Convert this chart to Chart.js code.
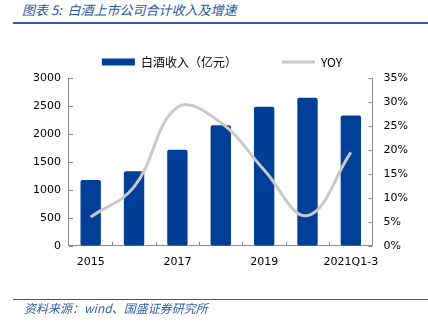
<!DOCTYPE html>
<html lang="zh">
<head>
    <meta charset="UTF-8">
    <title>白酒上市公司合计收入及增速</title>
    <style>
        body {
            margin: 0;
            padding: 0;
            background: #fff;
            width: 428px;
            height: 325px;
            position: relative;
            overflow: hidden;
            font-family: "Noto Sans CJK SC", "DejaVu Sans", sans-serif;
        }
        .title {
            position: absolute;
            left: 22px;
            top: 0px;
            font-size: 13px;
            font-style: italic;
            color: #2a56a6;
            white-space: nowrap;
        }
        .rule {
            position: absolute;
            left: 13px;
            width: 415px;
            background: #2f5ea8;
        }
        .source {
            position: absolute;
            left: 24px;
            top: 299px;
            font-size: 12px;
            font-style: italic;
            color: #2f5ea8;
            white-space: nowrap;
        }
        #wrap {
            position: absolute;
            left: 0;
            top: 0;
            width: 428px;
            height: 325px;
        }
    </style>
    <script src="https://cdn.jsdelivr.net/npm/chart.js"></script>
</head>
<body>
    <div class="title">图表 5:&nbsp; 白酒上市公司合计收入及增速</div>
    <div class="rule" style="top:22px;height:2px;"></div>
    <div id="wrap"><canvas id="chart"></canvas></div>
    <div class="rule" style="top:299px;height:1px;"></div>
    <div class="source">资料来源：wind、国盛证券研究所</div>

<script>
    // data
    var categories = ['2015', '2016', '2017', '2018', '2019', '2020', '2021Q1-3'];
    var revenue = [1175, 1335, 1715, 2155, 2485, 2645, 2330];   // 亿元
    var yoy = [0.060, 0.123, 0.289, 0.257, 0.158, 0.063, 0.195];
    var leftTicks = [0, 500, 1000, 1500, 2000, 2500, 3000];
    var rightTicks = [0, 0.05, 0.10, 0.15, 0.20, 0.25, 0.30, 0.35];

    var axisColor = '#8c8c8c';
    var tickFont = { family: 'DejaVu Sans', size: 11 };

    // small inward tick marks like the original
    var innerTicks = {
        id: 'innerTicks',
        afterDatasetsDraw: function(chart) {
            var ctx = chart.ctx;
            var area = chart.chartArea;
            var y = chart.scales.y, y1 = chart.scales.y1, x = chart.scales.x;
            ctx.save();
            ctx.strokeStyle = axisColor;
            ctx.lineWidth = 1;
            ctx.beginPath();
            leftTicks.forEach(function(v) {
                var py = Math.round(y.getPixelForValue(v)) + 0.5;
                ctx.moveTo(area.left, py);
                ctx.lineTo(area.left + 4, py);
            });
            rightTicks.forEach(function(v) {
                var py = Math.round(y1.getPixelForValue(v)) + 0.5;
                ctx.moveTo(area.right, py);
                ctx.lineTo(area.right - 4, py);
            });
            for (var i = 1; i < categories.length; i++) {
                var px = Math.round((x.getPixelForValue(i - 1) + x.getPixelForValue(i)) / 2) + 0.5;
                ctx.moveTo(px, area.bottom);
                ctx.lineTo(px, area.bottom - 4);
            }
            ctx.stroke();
            ctx.restore();
        }
    };

    var ctx = document.getElementById('chart').getContext('2d');
    var myChart = new Chart(ctx, {
        type: 'bar',
        data: {
            labels: categories,
            datasets: [{
                type: 'bar',
                label: '白酒收入（亿元）',
                data: revenue,
                backgroundColor: '#003f98',
                borderRadius: 2,
                borderSkipped: false,
                categoryPercentage: 1,
                barPercentage: 0.47,
                yAxisID: 'y',
                order: 1,
                pointStyle: 'rect'
            }, {
                type: 'line',
                label: 'YOY',
                data: yoy,
                borderColor: '#c8c8c8',
                backgroundColor: '#c8c8c8',
                borderWidth: 3,
                pointRadius: 0,
                tension: 0.4,
                yAxisID: 'y1',
                order: 0,
                pointStyle: 'line'
            }]
        },
        options: {
            responsive: true,
            maintainAspectRatio: false,
            animation: false,
            layout: {
                padding: { left: 25, right: 9, top: 11, bottom: 46 }
            },
            plugins: {
                tooltip: { enabled: false },
                legend: {
                    position: 'top',
                    labels: {
                        usePointStyle: true,
                        pointStyleWidth: 33,
                        boxWidth: 33,
                        boxHeight: 7,
                        padding: 45,
                        color: '#000',
                        font: { family: 'Noto Sans CJK SC', size: 12 },
                        sort: function(a, b) { return a.datasetIndex - b.datasetIndex; }
                    }
                }
            },
            scales: {
                x: {
                    offset: true,
                    grid: { display: false, drawTicks: false },
                    border: { display: true, color: axisColor, width: 1 },
                    ticks: {
                        autoSkip: false,
                        maxRotation: 0,
                        padding: 10,
                        color: '#000',
                        font: tickFont,
                        callback: function(v, i) {
                            return i % 2 === 0 ? categories[i] : '';
                        }
                    }
                },
                y: {
                    position: 'left',
                    min: 0,
                    max: 3000,
                    grid: { display: false, drawTicks: false },
                    border: { display: true, color: axisColor, width: 1 },
                    ticks: {
                        stepSize: 500,
                        padding: 8,
                        color: '#000',
                        font: tickFont,
                        callback: function(v) { return String(v); }
                    }
                },
                y1: {
                    position: 'right',
                    min: 0,
                    max: 0.35,
                    grid: { display: false, drawTicks: false },
                    border: { display: true, color: axisColor, width: 1 },
                    ticks: {
                        stepSize: 0.05,
                        padding: 11,
                        color: '#000',
                        font: tickFont,
                        callback: function(v) { return Math.round(v * 100) + '%'; }
                    }
                }
            }
        },
        plugins: [innerTicks]
    });
</script>
</body>
</html>
